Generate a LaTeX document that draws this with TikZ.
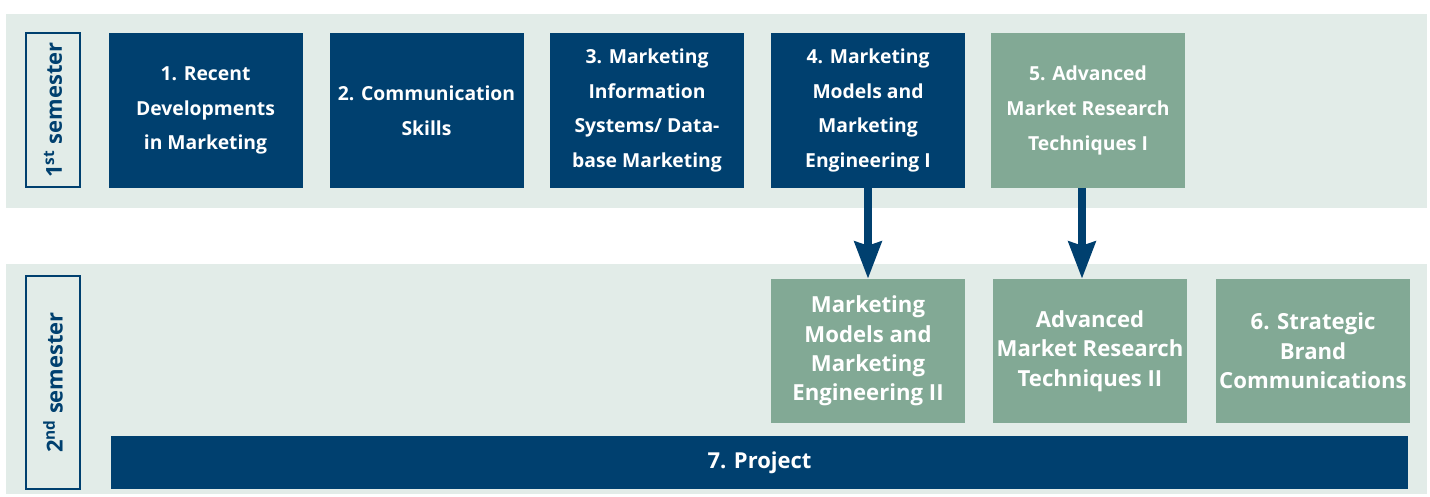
\documentclass[tikz,border=0pt]{standalone}
\usepackage{fontspec}
\setmainfont{Open Sans}
\usetikzlibrary{arrows.meta}

\definecolor{darkblue}{HTML}{00406F}
\definecolor{sage}{HTML}{82A995}
\definecolor{bandgray}{HTML}{E2ECE8}

\begin{document}
\begin{tikzpicture}

\tikzstyle{band}=[fill=bandgray, draw=none]
\tikzstyle{semlabel}=[rectangle, draw=darkblue, line width=1.1pt, fill=bandgray, text=darkblue, font=\bfseries\fontsize{12.5}{14}\selectfont, rotate=90, inner sep=0pt, minimum height=1.08cm]
\tikzstyle{box1}=[rectangle, fill=darkblue, text=white, align=center, minimum width=3.88cm, minimum height=3.1cm, font=\bfseries\fontsize{11}{19.8}\selectfont]
\tikzstyle{box2}=[rectangle, fill=sage, text=white, align=center, minimum width=3.88cm, minimum height=3.1cm, font=\bfseries\fontsize{11}{19.8}\selectfont]
\tikzstyle{box3}=[rectangle, fill=sage, text=white, align=center, inner xsep=0pt, minimum width=3.88cm, minimum height=2.88cm, font=\bfseries\fontsize{12.6}{16.7}\selectfont]
\tikzstyle{arrow}=[-{Stealth[width=0.54cm, length=0.74cm, inset=0.08cm]}, darkblue, line width=4pt]

\useasboundingbox (0,0) rectangle (28.6,9.92);
\fill [white] (0,0) rectangle (28.6,9.92);

% semester bands
\path [band] (0.12,5.76) rectangle (28.54,9.64);
\path [band] (0.12,0.04) rectangle (28.54,4.64);

\node (S1) [semlabel, minimum width=3.08cm] at (1.06,7.72) {1\textsuperscript{st} semester};
\node (S2) [semlabel, minimum width=4.26cm] at (1.06,2.27) {2\textsuperscript{nd} semester};

% first semester
\node (M1) [box1] at (4.11,7.71)  {1. Recent\\ Developments\\ in Marketing};
\node (M2) [box1] at (8.53,7.71)  {2. Communication\\ Skills};
\node (M3) [box1] at (12.94,7.71) {3. Marketing\\ Information\\ Systems/ Data-\\ base Marketing};
\node (M4) [box1] at (17.36,7.71) {4. Marketing\\ Models and\\ Marketing\\ Engineering I};
\node (M5) [box2] at (21.76,7.71) {5. Advanced\\ Market Research\\ Techniques I};

% second semester
\node (N4) [box3] at (17.36,2.90) {Marketing\\ Models and\\ Marketing\\ Engineering II};
\node (N5) [box3] at (21.80,2.90) {Advanced\\ Market Research\\ Techniques II};
\node (N6) [box3] at (26.26,2.90) {6. Strategic\\ Brand\\ Communications};

\node (P7) [box1, minimum width=25.94cm, minimum height=1.06cm, font=\bfseries\fontsize{12.5}{14}\selectfont] at (15.19,0.67) {7. Project};

\draw [arrow] (M4) -- (N4);
\draw [arrow] ([xshift=-0.12cm]M5.south) -- ([xshift=-0.12cm]M5.south |- N5.north);

\end{tikzpicture}
\end{document}
